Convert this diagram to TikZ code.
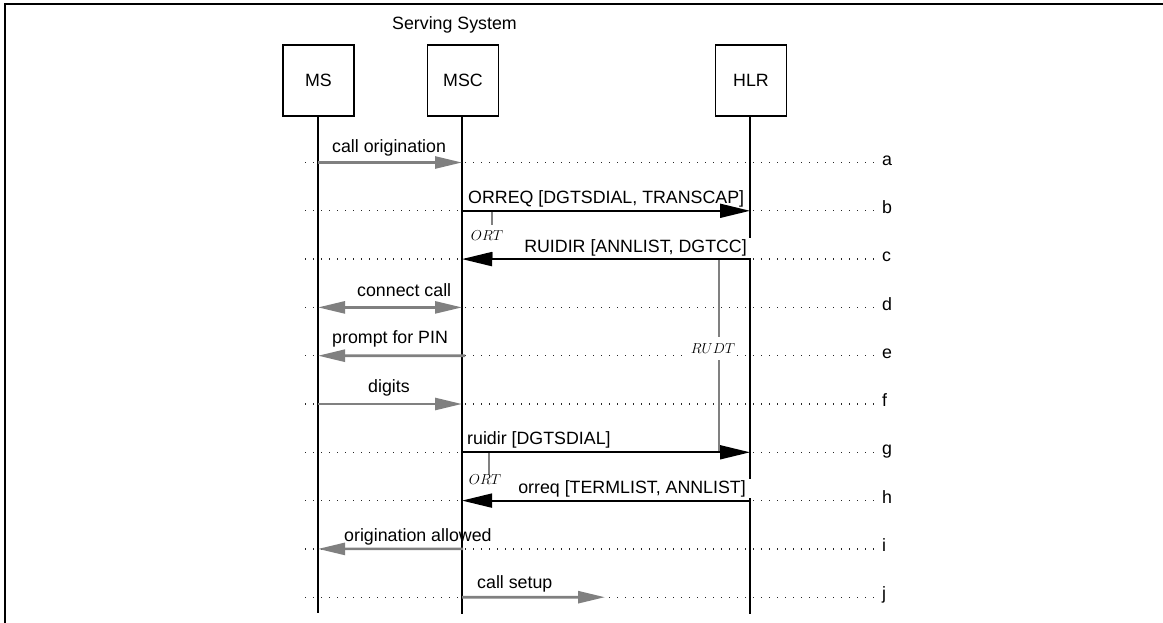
\documentclass[tikz,border=0pt]{standalone}
\usepackage{fontspec}
\setmainfont{Liberation Sans}
\usetikzlibrary{arrows.meta}
\definecolor{msggray}{RGB}{128,128,128}
\begin{document}
\begin{tikzpicture}[x=1pt,y=-1pt,
  lbl/.style={font=\fontsize{17.8}{20}\selectfont, inner sep=0pt},
  entity/.style={draw, line width=1.6pt, minimum width=71pt, minimum height=71pt, inner sep=0pt, font=\fontsize{17.8}{20}\selectfont},
  life/.style={line width=1.8pt},
  dotline/.style={line width=1.3pt, dash pattern=on 1.3pt off 6.7pt, black!85},
  grayarrow/.style={msggray, line width=2.6pt, -{Triangle[length=27pt,width=12pt]}},
  grayboth/.style={msggray, line width=2.6pt, {Triangle[length=27pt,width=12pt]}-{Triangle[length=27pt,width=12pt]}},
  blackarrow/.style={black, line width=1.8pt, -{Triangle[length=30pt,width=14pt]}},
  timerline/.style={msggray, line width=1.6pt},
  timerlbl/.style={fill=white, anchor=base, inner xsep=2pt, inner ysep=0pt, font=\fontsize{14.5}{15}\selectfont},
  coverlbl/.style={lbl, fill=white, inner xsep=5pt, inner ysep=1.5pt}
]
\useasboundingbox (0,0) rectangle (1163,623);
% frame
\draw[line width=2pt] (5,623) -- (5,4.5) -- (1163,4.5);

% title
\node[lbl, anchor=base] (title) at (454.5,30) {Serving System};

% entities
\node[entity] (ms) at (318.5,80.5) {MS};
\node[entity] (msc) at (463,80.5) {MSC};
\node[entity] (hlr) at (751,80.5) {HLR};

% rows
\foreach \r [count=\i from 0] in {a,b,c,d,e,f,g,h,i,j} {
  \pgfmathsetmacro{\yy}{162.5+48.3*\i}
  \coordinate (ms-\r) at (318,\yy);
  \coordinate (msc-\r) at (462,\yy);
  \coordinate (hlr-\r) at (750,\yy);
  \coordinate (dl-\r) at (305,\yy);
  \coordinate (dr-\r) at (878,\yy);
  \draw[dotline] (dl-\r) -- (dr-\r);
  \node[lbl, anchor=mid west] (lt-\r) at (882,\yy) {\r};
}

% lifelines
\coordinate (ms-end) at (318,613);
\coordinate (msc-end) at (462,614);
\coordinate (hlr-end) at (750,614);
\draw[life] (ms.south -| ms-end) -- (ms-end);
\draw[life] (msc.south -| msc-end) -- (msc-end);
\draw[life] (hlr.south -| hlr-end) -- (hlr-end);

% timers
\coordinate (ort1-top) at (492,210.8);
\coordinate (ort1-bot) at (492,259.1);
\draw[timerline] (ort1-top) -- (ort1-bot);
\node[timerlbl, text height=15.7pt, text depth=11.3pt] (ort1) at (487,240.7) {$ORT$};

\coordinate (rudt-top) at (719,259.1);
\coordinate (rudt-bot) at (719,452.3);
\draw[timerline] (rudt-top) -- (rudt-bot);
\node[timerlbl, text height=16pt, text depth=7pt] (rudt) at (713,353) {$RUDT$};

\coordinate (ort2-top) at (489,452.3);
\coordinate (ort2-bot) at (489,500.6);
\draw[timerline] (ort2-top) -- (ort2-bot);
\node[timerlbl, text height=9.5pt, text depth=11.5pt] (ort2) at (485,484) {$ORT$};

% labels
\node[lbl, anchor=base west] (la) at (332,152.5) {call origination};
\node[lbl, anchor=base west] (lb) at (468,204) {ORREQ [DGTSDIAL, TRANSCAP]};
\node[coverlbl, anchor=base east] (lc) at (752,252.5) {RUIDIR [ANNLIST, DGTCC]};
\node[lbl, anchor=base west] (ld) at (357,296) {connect call};
\node[lbl, anchor=base west] (le) at (332,343.5) {prompt for PIN};
\node[lbl, anchor=base west] (lf) at (368,392) {digits};
\node[lbl, anchor=base west] (lg) at (467,444) {ruidir [DGTSDIAL]};
\node[coverlbl, anchor=base east] (lh) at (751,493) {orreq [TERMLIST, ANNLIST]};
\node[lbl, anchor=base west] (li) at (344,541) {origination allowed};
\node[lbl, anchor=base west] (lj) at (477,588.5) {call setup};

% messages
\draw[grayarrow] (ms-a) -- (msc-a);
\draw[blackarrow] (msc-b) -- (hlr-b);
\draw[blackarrow] (hlr-c) -- (msc-c);
\draw[grayboth] (ms-d) -- (msc-d);
\coordinate (e-start) at (465,355.7);
\draw[grayarrow] (e-start) -- (ms-e);
\draw[grayarrow] (ms-f) -- (msc-f);
\draw[blackarrow] (msc-g) -- (hlr-g);
\draw[blackarrow] (hlr-h) -- (msc-h);
\coordinate (i-start) at (463,548.9);
\draw[grayarrow] (i-start) -- (ms-i);
\coordinate (j-end) at (605,597.2);
\draw[grayarrow] (msc-j) -- (j-end);
\end{tikzpicture}
\end{document}
